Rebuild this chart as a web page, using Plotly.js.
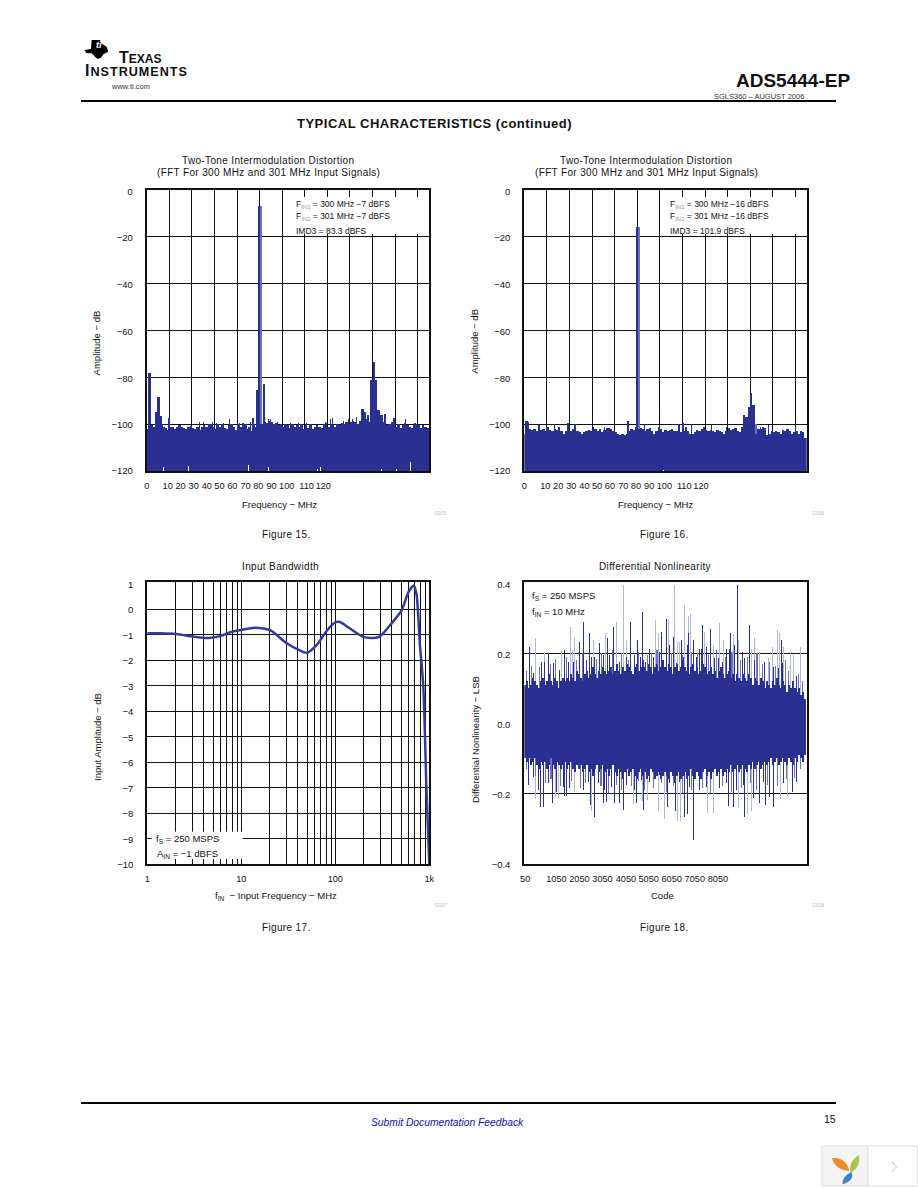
<!DOCTYPE html>
<html><head><meta charset="utf-8">
<script src="https://cdn.plot.ly/plotly-3.0.1.min.js"></script>
<style>html,body{margin:0;padding:0;background:#fff}#chart{width:918px;height:1188px}</style>
</head><body><div id="chart"></div>
<script>
// ---------- DATA ----------
const fftGridFreq = [10,20,30,40,50,60,70,80,90,100,110,120];
const fftTickPos = [0,9.3,15,20.8,26.6,32.2,37.9,43.8,49.4,55.3,62,70.8,78.2];
const fftTickText = ['0','10','20','30','40','50','60','70','80','90','100','110','120'];
const fftLevelGrid = [-100,-80,-60,-40,-20];
const fftLevelTickPos = [-120,-100.4,-80.4,-60.4,-40.4,-20.4,-0.6];
const fftLevelTickText = ['−120','−100','−80','−60','−40','−20','0'];

// Figure 15: noise-floor top at 1 MHz steps (0..125 MHz), dB
const fft1Floor = [-102,-101,-100.5,-101,-100,-100,-100,-101,-101.5,-102.5,-101,-101,-102,-101,-100.5,-101,-101.5,-102,-101,-100.8,-101.5,-102,-101,-102.5,-101,-100.5,-101,-100,-100,-101,-102,-100,-101,-100,-101.5,-102,-100.5,-100,-101,-102.5,-100,-101,-99.5,-100,-102,-101,-103,-100,-101,-99.5,-100,-100,-99,-99.5,-98.5,-99,-100,-99.5,-100.5,-100,-101,-100,-100.5,-101.5,-100,-101,-100.5,-101,-100,-102,-100.5,-101.5,-100,-102,-101,-100.5,-101,-101.5,-100,-99.5,-101,-100,-100.5,-101,-100,-100.5,-99.5,-100,-99,-100,-99,-98.5,-99,-100,-98.5,-97.5,-97,-98,-99,-99,-99,-99,-98,-99,-99,-100,-100.5,-100,-99,-100,-101,-100,-101.5,-100.5,-99.5,-100.5,-101,-101.5,-100.5,-100,-100.5,-101.5,-100.5,-101,-101.5,-102];
const fft1PeakFreq = [1.2,4.1,5.2,6.2,10,47.2,48.7,49.6,51.9,95.6,96.8,98,99.5,100.5,101.5,102.6,104,105.5];
const fft1PeakVal = [-78,-95,-88.5,-96.5,-97.5,-97.5,-85.5,-7,-83,-93.5,-95,-96,-81,-73.5,-81,-94,-96,-95.5];
const fft1MidFreq = [50.7];
const fft1MidVal = [-7];
const fft1TipFreq = [23.3,25.1,29.2,31,34.2,36.6,41,44.3,46,53.9,54.9,57.9,63.5,67.2,70.8,79,81.2,82.4,87,89.3,91.2,92.7,109.5,114.8,118.8];
const fft1TipVal = [-99,-99,-99,-99.5,-99.5,-98,-99.7,-100,-99,-98,-97.8,-99,-99.5,-99.5,-99.5,-99,-98,-97.5,-98.5,-98,-97.8,-97,-97.5,-97.8,-99.5];
const fft1GapFreq = [7.4,18.5,19.6,45,52.4,53.9,75.6,76.8,104,110.7,116.9];
const fft1GapVal = [-118.5,-118,-116,-117.5,-118,-118.5,-119,-118.5,-119,-119,-116];

// Figure 16: noise-floor top at 1 MHz steps (0..125 MHz), dB
const fft2Floor = [-104,-99,-102,-102.5,-102,-103,-100.5,-102.5,-102,-103,-101,-102.5,-103,-102,-102.5,-101,-103,-104,-103,-103.5,-103,-102,-100,-103,-103.5,-104,-103.5,-103,-102.5,-103,-102.5,-102,-103,-102,-103.5,-102.5,-101.5,-101.5,-102,-103,-103.5,-104,-104.5,-104,-104.5,-104,-103,-102,-102.5,-101,-102,-101.5,-102,-103,-102,-101.5,-103,-104,-103,-101,-102,-103.5,-102.5,-103,-102.5,-102,-103,-103,-100,-103.5,-103,-101,-103,-104,-104,-103.5,-102.5,-103,-102,-101,-102.5,-103,-102.5,-103,-103.5,-102.5,-103,-103.5,-104,-103,-101.5,-102.5,-102,-101.5,-103,-103.5,-101,-102,-100,-100.5,-101,-101,-104,-102,-102,-101,-101.5,-104.5,-104,-103,-103.5,-103,-103.5,-104,-102.5,-103,-102,-103,-104,-103.5,-103,-104,-103,-103.5,-106];
const fft2PeakFreq = [1,19.2,45.8,49.8,70.4,97.3,98.4,99.5,100.4,101.5];
const fft2PeakVal = [-98.5,-99.3,-98.8,-15.7,-99.5,-96,-97,-92.5,-86.5,-92];
const fft2MidFreq = [50.8,102.6];
const fft2MidVal = [-15.7,-100];
const fft2TipFreq = [6.2,9.9,13.3,30.6,35.3,53.4,60,74,83,89.6,104.4,108,119.9];
const fft2TipVal = [-100,-101,-100,-101,-101,-100.5,-100.5,-100,-100,-101,-101,-100.5,-101];
const fft2GapFreq = [61.8];
const fft2GapVal = [-119.5];

// Figure 17: input bandwidth
const bwFreq = [1,1.36,2.05,3.09,4.45,5.93,7.6,10.1,14,20.2,30.4,40.4,49.7,63.3,80.7,100,112,143,198,253,297,397,509,600,687,733,795,862,932,1000];
const bwAmp = [-0.94,-0.94,-0.97,-1.07,-1.12,-1.05,-0.9,-0.8,-0.72,-0.82,-1.33,-1.58,-1.7,-1.4,-0.85,-0.51,-0.5,-0.75,-1.08,-1.12,-1.07,-0.55,-0.03,0.67,0.93,0.56,-1.4,-2.97,-7,-10];
const bwMinor = [2,3,4,5,6,7,8,9,20,30,40,50,60,70,80,90,200,300,400,500,600,700,800,900];
const bwMajor = [1,10,100,1000];
const bwMajorText = ['1','10','100','1k'];
const bwLevelGrid = [-9,-8,-7,-6,-5,-4,-3,-2,-1,0];
const bwLevelTickPos = [-10,-9.03,-8.03,-7.03,-6.03,-5.03,-4.03,-3.03,-2.03,-1.03,-0.03,0.98];
const bwLevelTickText = ['−10','−9','−8','−7','−6','−5','−4','−3','−2','−1','0','1'];

// Figure 18: DNL body, columns every 116 codes
const dnlBodyHi = [.11,.12,.10,.11,.13,.12,.11,.10,.12,.13,.11,.12,.14,.12,.11,.13,.12,.10,.12,.13,.12,
 .13,.12,.14,.13,.12,.15,.14,.13,.12,.14,.15,.13,.14,.16,.14,.13,.15,.14,.16,.15,
 .14,.15,.16,.14,.15,.17,.15,.14,.16,.15,.17,.16,.15,.14,.16,.17,.15,.16,.18,.16,.15,.17,.16,.14,.16,.17,.15,.16,.18,.16,
 .15,.17,.16,.14,.16,.17,.15,.16,.18,.16,.15,.14,.16,.17,.15,.16,.14,.15,.17,.16,.14,.15,.16,.14,.15,.13,.15,.16,.14,.13,
 .14,.15,.13,.14,.12,.14,.13,.12,.14,.13,.12,.14,.13,.11,.13,.12,.11,.13,.12,.10,
 .12,.11,.10,.12,.11,.13,.11,.10,.12,.11,.09,.11,.10,.12,.10,.09,.10,.08,.09,.07];
const dnlBodyLo = [-.10,-.11,-.10,-.12,-.11,-.10,-.12,-.13,-.11,-.12,-.11,-.13,-.12,-.10,-.12,-.13,-.11,-.12,-.13,-.12,-.11,
 -.13,-.12,-.11,-.13,-.14,-.12,-.13,-.12,-.14,-.13,-.12,-.14,-.13,-.15,-.13,-.12,-.14,-.13,-.12,-.14,
 -.13,-.15,-.13,-.12,-.14,-.15,-.13,-.14,-.16,-.14,-.13,-.15,-.14,-.13,-.15,-.16,-.14,-.13,-.15,-.14,-.16,-.15,-.13,-.14,-.16,-.15,-.14,-.16,-.15,-.14,
 -.15,-.16,-.14,-.15,-.17,-.15,-.14,-.16,-.15,-.14,-.16,-.15,-.13,-.15,-.16,-.14,-.15,-.16,-.14,-.13,-.15,-.14,-.16,-.14,-.13,-.15,-.14,-.13,-.15,-.14,
 -.13,-.14,-.12,-.14,-.13,-.12,-.14,-.13,-.12,-.13,-.14,-.12,-.13,-.11,-.13,-.12,-.11,-.13,-.12,-.11,
 -.12,-.11,-.10,-.12,-.11,-.10,-.12,-.11,-.10,-.11,-.12,-.10,-.11,-.12,-.10,-.11,-.09,-.10,-.11,-.09];
// Denser spikes just above and below the body
const dnlUpMidCode = [291,523,1006,1200,1683,2070,2553,2843,3229,3616,3906,4099,4583,4969,5511,5936,6419,6748,7057,7482,7830,8100,8450,8643,8837,9223,9474,9996,10286,10576,11060,11253,11485,11929,12219,12799,13340,13959,14442,14732,14964,15795];
const dnlUpMidVal = [.162,.143,.176,.176,.172,.153,.176,.176,.195,.181,.191,.191,.195,.195,.176,.191,.195,.191,.176,.191,.205,.181,.224,.248,.172,.191,.224,.191,.214,.219,.186,.186,.176,.214,.224,.186,.181,.176,.162,.157,.172,.134];
const dnlDownMidCode = [233,523,813,1393,1876,2263,2650,3423,3713,4293,4679,5066,5936,6419,6805,7289,7869,8449,9028,9608,10188,10575,11348,11735,12315,12701,13281,13861,14441,15021,15794];
const dnlDownMidVal = [-.176,-.152,-.190,-.171,-.195,-.181,-.186,-.190,-.167,-.171,-.190,-.181,-.176,-.190,-.162,-.167,-.148,-.171,-.167,-.181,-.190,-.181,-.186,-.171,-.190,-.176,-.186,-.167,-.181,-.171,-.167];
// Half-tone fringe spikes around the body
const dnlFringeUpCode = [120,420,900,1500,1800,2450,3050,3350,4200,4500,5100,5650,6050,6650,7150,7400,7700,8550,9150,9700,10050,10700,11150,11650,12050,12550,12950,13500,13800,14250,14600,15150,15350,15900,16150];
const dnlFringeUpVal = [.15,.165,.16,.17,.185,.19,.18,.2,.185,.2,.21,.2,.18,.205,.195,.2,.21,.2,.195,.205,.2,.195,.21,.19,.205,.18,.19,.2,.17,.175,.165,.18,.15,.14,.12];
const dnlFringeDownCode = [120,640,1250,1550,2100,2750,3250,3550,4450,4900,5350,5650,6200,6650,7000,7500,7950,8250,8650,9200,9700,10350,10800,11500,12000,12600,13100,13450,14100,14700,15200,15650,16050];
const dnlFringeDownVal = [-.13,-.15,-.17,-.16,-.18,-.165,-.185,-.17,-.18,-.2,-.175,-.19,-.18,-.165,-.19,-.185,-.17,-.195,-.18,-.2,-.19,-.185,-.2,-.18,-.195,-.185,-.17,-.19,-.175,-.18,-.16,-.155,-.13];
// Isolated strong spikes
const dnlUpDarkCode = [291,1393,2360,3229,3461,3771,4389,4815,5201,6168,6555,6844,7289,7966,8276,9127,9552,9803,10151,10325,10828,11736,11987,12355,12645,13051,14926];
const dnlUpDarkVal = [.219,.200,.210,.233,.291,.257,.229,.243,.276,.291,.238,.319,.214,.262,.298,.238,.257,.238,.214,.281,.269,.214,.257,.397,.205,.281,.238];
const dnlUpLightCode = [659,1200,2166,2688,2785,2940,4041,4737,5356,5742,5936,7618,7772,8392,8701,8875,9010,9320,9513,9668,10441,10963,11350,11543,12123,12451,13186,13379,13669,14152,14384,14693,14829,15022,15467,15622,16047];
const dnlUpLightVal = [.243,.205,.210,.276,.21,.248,.238,.257,.291,.397,.238,.295,.257,.298,.397,.233,.233,.338,.307,.314,.262,.224,.286,.238,.255,.238,.214,.245,.205,.186,.217,.267,.259,.219,.2,.195,.217];
const dnlDownDarkCode = [948,1103,1644,2321,2456,3848,4099,4621,4776,5220,5510,5781,6516,6902,8313,8796,9280,9454,9840,11851,12160,12759,13320,13668,13996,14248,14480,15543];
const dnlDownDarkVal = [-.240,-.238,-.227,-.208,-.208,-.233,-.269,-.229,-.224,-.229,-.229,-.248,-.229,-.248,-.238,-.252,-.269,-.259,-.333,-.236,-.240,-.269,-.214,-.229,-.233,-.210,-.240,-.195];
const dnlDownLightCode = [659,1818,1973,2901,3887,6322,6844,7134,7811,8120,8893,9086,10613,10961,12411,12952,13204,14866,15272];
const dnlDownLightVal = [-.217,-.210,-.214,-.195,-.250,-.232,-.221,-.219,-.250,-.274,-.278,-.280,-.257,-.257,-.243,-.259,-.250,-.217,-.208];
const dnlTickPos = [50,1861,3200,4537,5895,7214,8553,9892,11231];
const dnlTickText = ['50','1050','2050','3050','4050','5050','6050','7050','8050'];
const dnlLevelGrid = [-0.2,0.2];
const dnlLevelTickPos = [-0.403,-0.203,-0.003,0.197,0.397];
const dnlLevelTickText = ['−0.4','−0.2','0.0','0.2','0.4'];

// ---------- STYLE ----------
const W=918,H=1188,FONT='"Liberation Sans", Arial, sans-serif';
const BLUE='#2a3091',MID='#6a6fbf',LIGHT='#b4b7dc',BLACK='#111';
const frames={1:[146.7,429,190,471],2:[524.3,806.7,190,471],3:[147.3,429.3,582.3,864.3],4:[524.3,806.7,581.7,864.3]};
const X=p=>p/W, Y=p=>1-p/H;
const dom=(f)=>({x:[X(f[0]),X(f[1])],y:[Y(f[3]),Y(f[2])]});
const sfx=i=>i===1?'':String(i);

function barTrace(ax,x,y,base,w,color){
  return {type:'bar',xaxis:'x'+sfx(ax),yaxis:'y'+sfx(ax),x:x,y:y.map((v,i)=>v-(Array.isArray(base)?base[i]:base)),
    base:base,width:w,marker:{color:color,line:{width:0}},hoverinfo:'skip',showlegend:false};
}
const floorX=a=>a.map((_,i)=>i+0.5);
const traces=[
 barTrace(1,fft1MidFreq,fft1MidVal,-120,1,MID),
 barTrace(1,floorX(fft1Floor),fft1Floor,-120,1,BLUE),
 barTrace(1,fft1PeakFreq,fft1PeakVal,-120,1,BLUE),
 barTrace(1,fft1TipFreq,fft1TipVal,-120,0.45,BLUE),
 barTrace(1,fft1GapFreq,fft1GapVal,-120,0.4,'#ffffff'),
 barTrace(2,fft2MidFreq,fft2MidVal,-120,1,MID),
 barTrace(2,floorX(fft2Floor),fft2Floor,-120,1,BLUE),
 barTrace(2,fft2PeakFreq,fft2PeakVal,-120,1,BLUE),
 barTrace(2,fft2TipFreq,fft2TipVal,-120,0.45,BLUE),
 barTrace(2,fft2GapFreq,fft2GapVal,-120,0.4,'#ffffff'),
 {type:'scatter',mode:'lines',xaxis:'x3',yaxis:'y3',x:bwFreq,y:bwAmp,line:{color:'#343a9b',width:2.5,shape:'spline',smoothing:0.7},hoverinfo:'skip'},
 barTrace(4,dnlUpLightCode,dnlUpLightVal,0,60,LIGHT),
 barTrace(4,dnlDownLightCode,dnlDownLightVal,0,60,LIGHT),
 barTrace(4,dnlFringeUpCode,dnlFringeUpVal,0,60,MID),
 barTrace(4,dnlFringeDownCode,dnlFringeDownVal,0,60,MID),
 barTrace(4,dnlUpDarkCode,dnlUpDarkVal,0,60,BLUE),
 barTrace(4,dnlDownDarkCode,dnlDownDarkVal,0,60,BLUE),
 barTrace(4,dnlUpMidCode,dnlUpMidVal,0,60,BLUE),
 barTrace(4,dnlDownMidCode,dnlDownMidVal,0,60,BLUE),
 barTrace(4,dnlBodyHi.map((_,i)=>58+116*i),dnlBodyHi,dnlBodyLo,116,BLUE)
];

const yTickFont={family:FONT,size:9.5,color:'#111'}, xTickFont={family:FONT,size:9.2,color:'#111'};
function xAxis(i,extra){
  return Object.assign({domain:dom(frames[i]).x,anchor:'y'+sfx(i),showline:true,mirror:true,linecolor:BLACK,linewidth:2,
    zeroline:false,ticks:'outside',ticklen:4.5,tickcolor:'rgba(0,0,0,0)',tickfont:xTickFont,tickangle:0,showgrid:false},extra);
}
function yAxis(i,extra){
  return Object.assign({domain:dom(frames[i]).y,anchor:'x'+sfx(i),showline:true,mirror:true,linecolor:BLACK,linewidth:2,
    zeroline:false,ticks:'outside',ticklen:10,tickcolor:'rgba(0,0,0,0)',tickfont:yTickFont,showgrid:false},extra);
}
const gridMinor=vals=>({tickmode:'array',tickvals:vals,showgrid:true,gridcolor:BLACK,gridwidth:1,ticks:'',ticklen:0});
const fftY=()=>({range:[-120,0],tickmode:'array',tickvals:fftLevelTickPos,ticktext:fftLevelTickText,minor:gridMinor(fftLevelGrid)});

const layout={
 width:W,height:H,margin:{l:0,r:0,t:0,b:0},paper_bgcolor:'#fff',plot_bgcolor:'#fff',showlegend:false,barmode:'overlay',bargap:0,
 xaxis:xAxis(1,{range:[0,125],tickmode:'array',tickvals:fftTickPos,ticktext:fftTickText,minor:gridMinor(fftGridFreq)}),
 yaxis:yAxis(1,fftY()),
 xaxis2:xAxis(2,{range:[0,125],tickmode:'array',tickvals:fftTickPos,ticktext:fftTickText,minor:gridMinor(fftGridFreq)}),
 yaxis2:yAxis(2,fftY()),
 xaxis3:xAxis(3,{type:'log',range:[0,3],tickmode:'array',tickvals:bwMajor,ticktext:bwMajorText,showgrid:true,gridcolor:BLACK,gridwidth:1,minor:gridMinor(bwMinor)}),
 yaxis3:yAxis(3,{range:[-10,1.06],tickmode:'array',tickvals:bwLevelTickPos,ticktext:bwLevelTickText,minor:gridMinor(bwLevelGrid)}),
 xaxis4:xAxis(4,{range:[0,16384],tickmode:'array',tickvals:dnlTickPos,ticktext:dnlTickText}),
 yaxis4:yAxis(4,{range:[-0.403,0.405],tickmode:'array',tickvals:dnlLevelTickPos,ticktext:dnlLevelTickText,minor:gridMinor(dnlLevelGrid)}),
 annotations:[],shapes:[]
};

function note(text,x,y,opt){
  opt=opt||{};
  const t=opt.ls?'<span style="letter-spacing:'+opt.ls+'px">'+text+'</span>':text;
  layout.annotations.push({text:t,xref:'paper',yref:'paper',x:X(x),y:Y(y),showarrow:false,xanchor:opt.anchor||'center',yanchor:'middle',
    textangle:opt.angle||0,borderpad:0,align:'center',font:{family:opt.family||FONT,size:opt.size||9.5,color:opt.color||'#111'}});
}
function poly(points,color){
  const d=points.map((p,i)=>(i?'L':'M')+X(p[0])+','+Y(p[1])).join(' ')+' Z';
  layout.shapes.push({type:'path',xref:'paper',yref:'paper',path:d,fillcolor:color,line:{width:0},layer:'above'});
}
function petal(a,c1,b,c2,color){
  const P=p=>X(p[0])+','+Y(p[1]);
  layout.shapes.push({type:'path',xref:'paper',yref:'paper',path:'M'+P(a)+' Q'+P(c1)+' '+P(b)+' Q'+P(c2)+' '+P(a)+' Z',fillcolor:color,line:{width:0},layer:'above'});
}
function pageRect(x0,x1,y0,y1,fill,border){
  layout.shapes.push({type:'rect',xref:'paper',yref:'paper',x0:X(x0),x1:X(x1),y0:Y(y1),y1:Y(y0),fillcolor:fill,line:border?{color:border,width:1}:{width:0},layer:'above'});
}
function pageLine(x0,y0,x1,y1,color,w){
  layout.shapes.push({type:'line',xref:'paper',yref:'paper',x0:X(x0),x1:X(x1),y0:Y(y0),y1:Y(y1),line:{color:color,width:w},layer:'above'});
}

// Page furniture
pageLine(81,101,836,101,'#000',2);
pageLine(81,1103,836,1103,'#000',2);
note('<b>ADS5444-EP</b>',851,80,{anchor:'right',size:19});
note('SGLS360 – AUGUST 2006',805,97,{anchor:'right',size:7.5,color:'#333'});
note('<b>TYPICAL CHARACTERISTICS (continued)</b>',434.5,124,{size:13,ls:0.5});
note('<i>Submit Documentation Feedback</i>',447.5,1122,{size:10.3,color:'#1010b0'});
note('15',830,1119,{size:10.5});
// Logo
const lg=(zx,zy)=>[75+zx/3,35+zy/3];
poly([lg(28,45),lg(48,42),lg(50,15),lg(75,15),lg(78,25),lg(95,35),lg(100,50),lg(85,58),lg(78,68),lg(68,72),lg(60,65),lg(50,55),lg(35,55)],'#000');
note('<b><i>ti</i></b>',99,45,{size:9,color:'#fff'});
note('<b><span style="font-size:16px">T</span>EXAS</b>',118,57,{anchor:'left',size:12});
note('<b><span style="font-size:16px">I</span>NSTRUMENTS</b>',84,70.5,{anchor:'left',size:12.6,ls:1});
note('www.ti.com',130,87,{size:7.5,color:'#333'});
// Corner widget
pageRect(822,868,1146,1186,'#f4f4f4','#dddddd');
pageRect(868,917.5,1146,1186,'#ffffff','#dddddd');
petal([832,1158],[846,1157],[849.5,1171],[835,1170],'#ee8a2c');
petal([858.5,1155],[862,1165],[850.5,1173.5],[848,1162],'#a8c84a');
petal([851.5,1172],[855,1180],[842.5,1184.5],[842,1176],'#3a82c8');
pageLine(891.7,1161.7,896.7,1166.7,'#bbbbbb',1);
pageLine(896.7,1166.7,891.7,1171.7,'#bbbbbb',1);

// Titles
const t1='Two-Tone Intermodulation Distortion', t2='(FFT For 300 MHz and 301 MHz Input Signals)';
const big={size:10,ls:0.35};
note(t1,268,160.7,big); note(t2,268,172.7,big);
note(t1,646,160.7,big); note(t2,646,172.7,big);
note('Input Bandwidth',280.3,566.7,big);
note('Differential Nonlinearity',655,566.7,big);
// Axis titles
note('Amplitude − dB',96.7,342.7,{angle:-90});
note('Amplitude − dB',475,341.7,{angle:-90});
note('Input Amplitude − dB',97.3,736.7,{angle:-90});
note('Differential Nonlinearity − LSB',475,740,{angle:-90});
note('Frequency − MHz',279,504);
note('Frequency − MHz',655.7,504);
note('f<sub>IN</sub>  − Input Frequency − MHz',276,895.7);
note('Code',662.7,895.7);
// Figure captions
note('Figure 15.',286,535,big); note('Figure 16.',664,535,big);
note('Figure 17.',286,927,big); note('Figure 18.',664,927,big);
// Drawing codes
note('G015',440,513,{size:5,color:'#bbb'}); note('G016',818,513,{size:5,color:'#bbb'});
note('G017',441,905,{size:5,color:'#bbb'}); note('G018',818,905,{size:5,color:'#bbb'});
// In-plot notes, each with a white patch that interrupts the gridlines
const fs=s=>'<sub><span style="color:#999">'+s+'</span></sub>';
pageRect(290,428,197,234,'#fff');
note('F'+fs('IN1')+' = 300 MHz −7 dBFS',295,204,{anchor:'left',size:8.5});
note('F'+fs('IN2')+' = 301 MHz −7 dBFS',295,217,{anchor:'left',size:8.5});
note('IMD3 = 83.3 dBFS',295,231,{anchor:'left',size:8.5});
pageRect(665,805.5,197,234,'#fff');
note('F'+fs('IN1')+' = 300 MHz −16 dBFS',668.7,204,{anchor:'left',size:8.5});
note('F'+fs('IN2')+' = 301 MHz −16 dBFS',668.7,217,{anchor:'left',size:8.5});
note('IMD3 = 101.9 dBFS',668.7,231,{anchor:'left',size:8.5});
pageRect(151.7,242.7,831.7,859,'#fff');
note('f<sub>S</sub> = 250 MSPS',155,838.7,{anchor:'left',size:9.5});
note('A<sub>IN</sub> = −1 dBFS',156,853.7,{anchor:'left',size:9.5});
note('f<sub>S</sub> = 250 MSPS',531,596.3,{anchor:'left',size:9.5});
note('f<sub>IN</sub> = 10 MHz',531,611.7,{anchor:'left',size:9.5});

Plotly.newPlot('chart',traces,layout,{displayModeBar:false,staticPlot:true});
</script></body></html>
